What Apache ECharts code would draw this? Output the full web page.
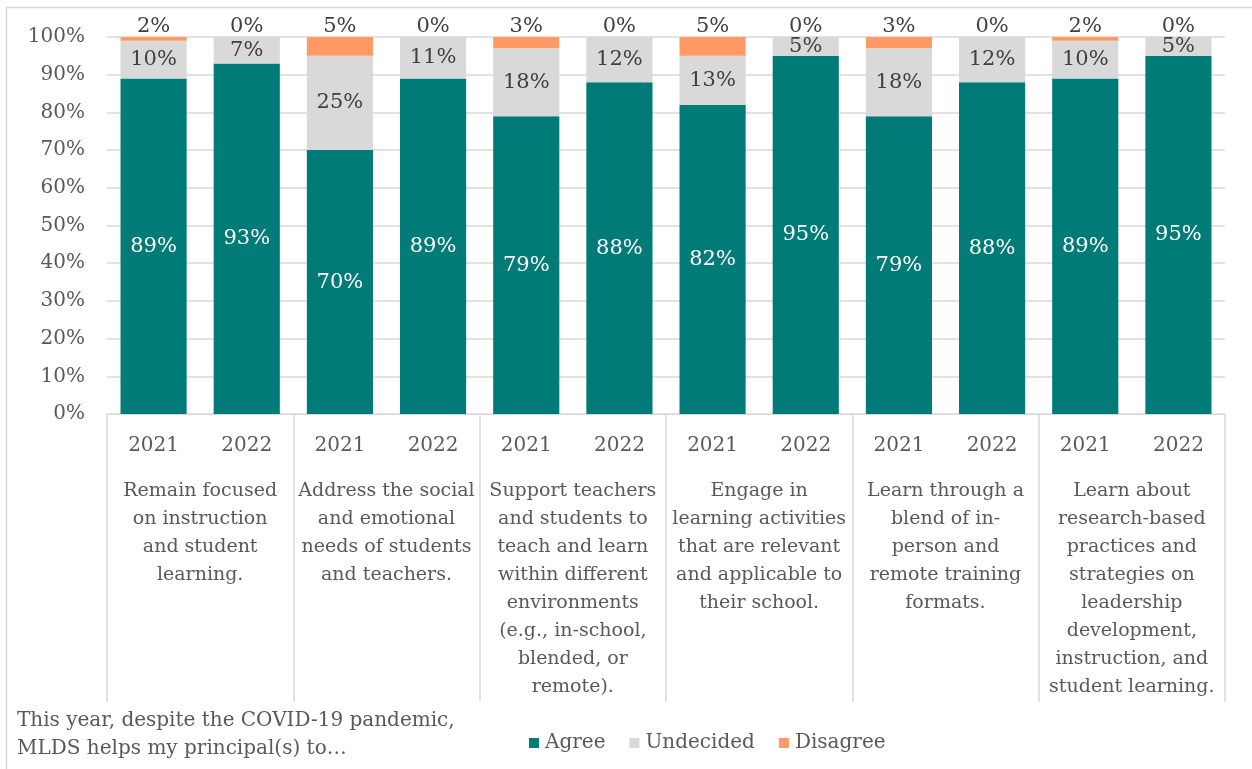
<!DOCTYPE html>
<html>
<head>
<meta charset="utf-8">
<script src="https://cdn.jsdelivr.net/npm/echarts@6/dist/echarts.min.js"></script>
<style>
  html, body { margin: 0; padding: 0; background: #ffffff; }
  #chart { width: 1252px; height: 769px; }
</style>
</head>
<body>
<div id="chart"></div>
<script>
// Survey items (outer axis level) and survey years (inner axis level)
const groups = [
  'Remain focused\non instruction\nand student\nlearning.',
  'Address the social\nand emotional\nneeds of students\nand teachers.',
  'Support teachers\nand students to\nteach and learn\nwithin different\nenvironments\n(e.g., in-school,\nblended, or\nremote).',
  'Engage in\nlearning activities\nthat are relevant\nand applicable to\ntheir school.',
  'Learn through a\nblend of in-\nperson and\nremote training\nformats.',
  'Learn about\nresearch-based\npractices and\nstrategies on\nleadership\ndevelopment,\ninstruction, and\nstudent learning.'
];
const years = ['2021', '2022', '2021', '2022', '2021', '2022', '2021', '2022', '2021', '2022', '2021', '2022'];

// Percent of respondents per response, one value per year bar
const agree     = [89, 93, 70, 89, 79, 88, 82, 95, 79, 88, 89, 95];
const undecided = [10, 7, 25, 11, 18, 12, 13, 5, 18, 12, 10, 5];
const disagree  = [2, 0, 5, 0, 3, 0, 5, 0, 3, 0, 2, 0];

const yTicks = { min: 0, max: 100, step: 10 };

const FONT = 'DejaVu Serif';
const TEXT = '#595959';
const GRIDC = '#D9D9D9';

const chart = echarts.init(document.getElementById('chart'), null, { renderer: 'canvas' });

chart.setOption({
  animation: false,
  backgroundColor: '#ffffff',
  textStyle: { fontFamily: FONT, color: TEXT },
  grid: { left: 107, right: 27, top: 37, bottom: 355, containLabel: false },
  legend: {
    left: 524,
    top: 728,
    itemWidth: 10,
    itemHeight: 10,
    itemGap: 24,
    icon: 'rect',
    textStyle: { fontFamily: FONT, fontSize: 20, color: TEXT, padding: [0, 0, 0, 1] },
    data: ['Agree', 'Undecided', 'Disagree']
  },
  xAxis: [
    {
      type: 'category',
      data: years,
      position: 'bottom',
      axisLine: { show: true, lineStyle: { color: GRIDC, width: 1 } },
      axisTick: { show: false },
      axisLabel: { interval: 0, margin: 22, fontFamily: FONT, fontSize: 20, color: TEXT, lineHeight: 20 }
    },
    {
      type: 'category',
      data: groups,
      position: 'bottom',
      axisLine: { show: false },
      axisTick: { show: true, length: 288, interval: 0, lineStyle: { color: GRIDC, width: 1.5 } },
      axisLabel: { interval: 0, margin: 63, fontFamily: FONT, fontSize: 19, color: TEXT, lineHeight: 28, align: 'center' }
    }
  ],
  yAxis: {
    type: 'value',
    min: yTicks.min,
    max: yTicks.max,
    interval: yTicks.step,
    axisLine: { show: false },
    axisTick: { show: false },
    splitLine: { lineStyle: { color: GRIDC, width: 1.5 } },
    axisLabel: { formatter: '{value}%', margin: 22, fontFamily: FONT, fontSize: 20, color: TEXT }
  },
  series: [
    {
      name: 'Agree',
      type: 'bar',
      stack: 'resp',
      barWidth: '71%',
      data: agree,
      itemStyle: { color: '#007B78' },
      label: { show: true, position: 'inside', formatter: '{c}%', fontFamily: FONT, fontSize: 21, color: '#ffffff' }
    },
    {
      name: 'Undecided',
      type: 'bar',
      stack: 'resp',
      data: undecided,
      itemStyle: { color: '#D9D9D9' },
      label: { show: true, position: 'inside', formatter: '{c}%', fontFamily: FONT, fontSize: 21, color: '#404040' }
    },
    {
      name: 'Disagree',
      type: 'bar',
      stack: 'resp',
      data: disagree,
      itemStyle: { color: '#FF9966' },
      label: { show: true, position: 'top', distance: 0, formatter: '{c}%', fontFamily: FONT, fontSize: 21, color: '#404040' }
    }
  ],
  graphic: [
    {
      type: 'rect',
      shape: { x: 6.5, y: 7.5, width: 1270, height: 790 },
      style: { fill: 'none', stroke: GRIDC, lineWidth: 1.5 },
      silent: true
    },
    {
      type: 'text',
      left: 17,
      top: 707,
      style: {
        text: 'This year, despite the COVID-19 pandemic,\nMLDS helps my principal(s) to…',
        fontFamily: FONT,
        fontSize: 20,
        lineHeight: 28,
        fill: TEXT
      }
    }
  ]
});
</script>
</body>
</html>
